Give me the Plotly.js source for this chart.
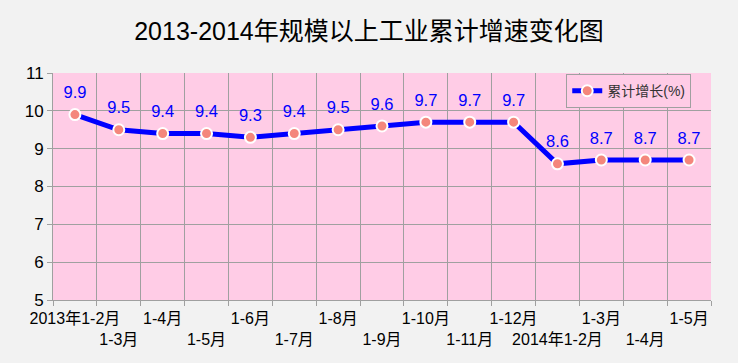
<!DOCTYPE html>
<html><head><meta charset="utf-8">
<script src="https://cdn.plot.ly/plotly-3.0.1.min.js"></script>
<style>body{margin:0;background:#f2f2f2}#c{width:738px;height:363px}</style>
</head><body><div id="c"></div>
<script>
const categories = ["2013年1-2月","1-3月","1-4月","1-5月","1-6月","1-7月","1-8月","1-9月","1-10月","1-11月","1-12月","2014年1-2月","1-3月","1-4月","1-5月"];
const growth = [9.9, 9.5, 9.4, 9.4, 9.3, 9.4, 9.5, 9.6, 9.7, 9.7, 9.7, 8.6, 8.7, 8.7, 8.7];
const seriesName = "累计增长(%)";
const titleText = "2013-2014年规模以上工业累计增速变化图";

const idx = categories.map((c, i) => i);
const tickText = categories.map((c, i) => (i % 2 === 0 ? c : "<br>" + c));

const trace = {
  x: idx, y: growth, type: "scatter", mode: "lines+markers",
  name: seriesName,
  line: {color: "#0000ff", width: 5},
  marker: {color: "#f4867c", size: 11, line: {color: "#ffffff", width: 2}},
  cliponaxis: false
};
const labelTrace = {
  x: idx, y: growth, type: "scatter", mode: "markers+text", showlegend: false,
  text: growth.map(v => v.toFixed(1)),
  textposition: "top center",
  textfont: {family: "Liberation Sans, Arial, sans-serif", size: 16.5, color: "#0000ff"},
  marker: {size: 18, opacity: 0}, cliponaxis: false, hoverinfo: "skip"
};

const layout = {
  width: 738, height: 363,
  paper_bgcolor: "#f2f2f2", plot_bgcolor: "#ffcce6",
  margin: {l: 53, r: 27, t: 73, b: 63},
  font: {family: "Liberation Sans, Arial, Noto Sans CJK SC, sans-serif", color: "#000"},
  title: {text: titleText, x: 0.5, xanchor: "center", y: 0.915, yanchor: "middle",
          font: {size: 25, color: "#000", family: "Liberation Sans, Noto Sans CJK SC, sans-serif"}},
  xaxis: {
    type: "linear", range: [-0.5, 14.5],
    tickvals: idx, ticktext: tickText, tickangle: 0, ticklabelstandoff: 4,
    showgrid: false, zeroline: false, ticks: "", showline: true, linecolor: "#a0a0a0",
    tickfont: {size: 16, color: "#000"}, fixedrange: true
  },
  xaxis2: {
    overlaying: "x", matching: "x", range: [-0.5, 14.5],
    tickvals: idx.concat([idx.length]).map(v => v - 0.5), showticklabels: false,
    showgrid: true, gridcolor: "#a0a0a0", gridwidth: 1, ticks: "outside", ticklen: 5, tickcolor: "#a0a0a0",
    zeroline: false, anchor: "y", side: "bottom"
  },
  yaxis: {
    range: [5, 11], dtick: 1, showgrid: true, gridcolor: "#a0a0a0", gridwidth: 1,
    ticks: "outside", ticklen: 5, tickcolor: "#a0a0a0", showline: true, linecolor: "#a0a0a0",
    zeroline: false, tickfont: {size: 17, color: "#000"}
  },
  showlegend: true,
  legend: {x: 0.78, xanchor: "left", y: 0.995, yanchor: "top", bgcolor: "#ffcce6",
           bordercolor: "#a0a0a0", borderwidth: 1, font: {size: 14, color: "#333"}}
};

const gridTrace = {x: [0], y: [5], xaxis: "x2", yaxis: "y", mode: "markers", marker: {opacity: 0}, showlegend: false, hoverinfo: "skip"};

Plotly.newPlot("c", [gridTrace, trace, labelTrace], layout, {displayModeBar: false, staticPlot: true});
</script></body></html>
